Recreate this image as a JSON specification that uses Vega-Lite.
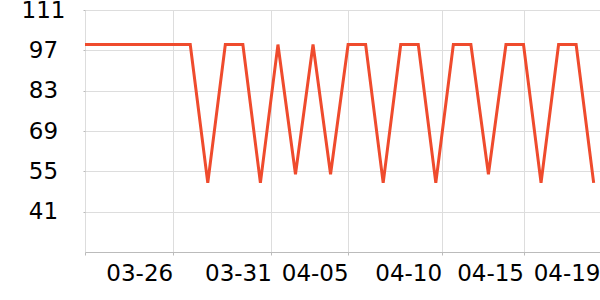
{
  "$schema": "https://vega.github.io/schema/vega-lite/v6.json",
  "width": 515,
  "height": 242,
  "autosize": "none",
  "padding": {"left": 85, "top": 10, "right": 0, "bottom": 48},
  "background": "white",
  "config": {"view": {"stroke": null}, "font": "DejaVu Sans"},
  "data": {
    "values": [
      {"date": "2024-03-21", "value": 99},
      {"date": "2024-03-22", "value": 99},
      {"date": "2024-03-23", "value": 99},
      {"date": "2024-03-24", "value": 99},
      {"date": "2024-03-25", "value": 99},
      {"date": "2024-03-26", "value": 99},
      {"date": "2024-03-27", "value": 99},
      {"date": "2024-03-28", "value": 51},
      {"date": "2024-03-29", "value": 99},
      {"date": "2024-03-30", "value": 99},
      {"date": "2024-03-31", "value": 51},
      {"date": "2024-04-01", "value": 99},
      {"date": "2024-04-02", "value": 54},
      {"date": "2024-04-03", "value": 99},
      {"date": "2024-04-04", "value": 54},
      {"date": "2024-04-05", "value": 99},
      {"date": "2024-04-06", "value": 99},
      {"date": "2024-04-07", "value": 51},
      {"date": "2024-04-08", "value": 99},
      {"date": "2024-04-09", "value": 99},
      {"date": "2024-04-10", "value": 51},
      {"date": "2024-04-11", "value": 99},
      {"date": "2024-04-12", "value": 99},
      {"date": "2024-04-13", "value": 54},
      {"date": "2024-04-14", "value": 99},
      {"date": "2024-04-15", "value": 99},
      {"date": "2024-04-16", "value": 51},
      {"date": "2024-04-17", "value": 99},
      {"date": "2024-04-18", "value": 99},
      {"date": "2024-04-19", "value": 51}
    ]
  },
  "mark": {"type": "line", "color": "#ef4b2d", "strokeWidth": 3, "clip": false},
  "encoding": {
    "x": {
      "field": "date",
      "type": "temporal",
      "scale": {
        "type": "utc",
        "domain": [
          {"year": 2024, "month": 3, "date": 21, "utc": true},
          {"year": 2024, "month": 4, "date": 19, "hours": 8, "minutes": 40, "utc": true}
        ]
      },
      "axis": {
        "title": null,
        "values": [
          {"year": 2024, "month": 3, "date": 21, "utc": true},
          {"year": 2024, "month": 3, "date": 26, "utc": true},
          {"year": 2024, "month": 3, "date": 31, "hours": 15, "utc": true},
          {"year": 2024, "month": 4, "date": 5, "utc": true},
          {"year": 2024, "month": 4, "date": 10, "hours": 8, "utc": true},
          {"year": 2024, "month": 4, "date": 15, "utc": true},
          {"year": 2024, "month": 4, "date": 19, "hours": 8, "minutes": 40, "utc": true}
        ],
        "labelExpr": "utcFormat(datum.value, '%d') == '21' ? '' : utcFormat(datum.value, '%m-%d')",
        "labelAlign": "right",
        "labelBaseline": "top",
        "labelFontSize": 23,
        "labelColor": "#000000",
        "labelPadding": 7,
        "labelOverlap": false,
        "labelFlush": false,
        "labelBound": false,
        "tickSize": 3,
        "tickColor": "#bbbbbb",
        "domainColor": "#bbbbbb",
        "gridColor": "#dddddd",
        "grid": true
      }
    },
    "y": {
      "field": "value",
      "type": "quantitative",
      "scale": {"domain": [27, 111], "nice": false, "zero": false},
      "axis": {
        "title": null,
        "values": [41, 55, 69, 83, 97, 111],
        "domain": false,
        "ticks": true,
        "tickSize": 2,
        "tickColor": "#bbbbbb",
        "labelAlign": "center",
        "labelBaseline": "middle",
        "labelFontSize": 23,
        "labelColor": "#000000",
        "labelPadding": 40,
        "labelFlush": false,
        "labelBound": false,
        "gridColor": "#dddddd"
      }
    }
  }
}
